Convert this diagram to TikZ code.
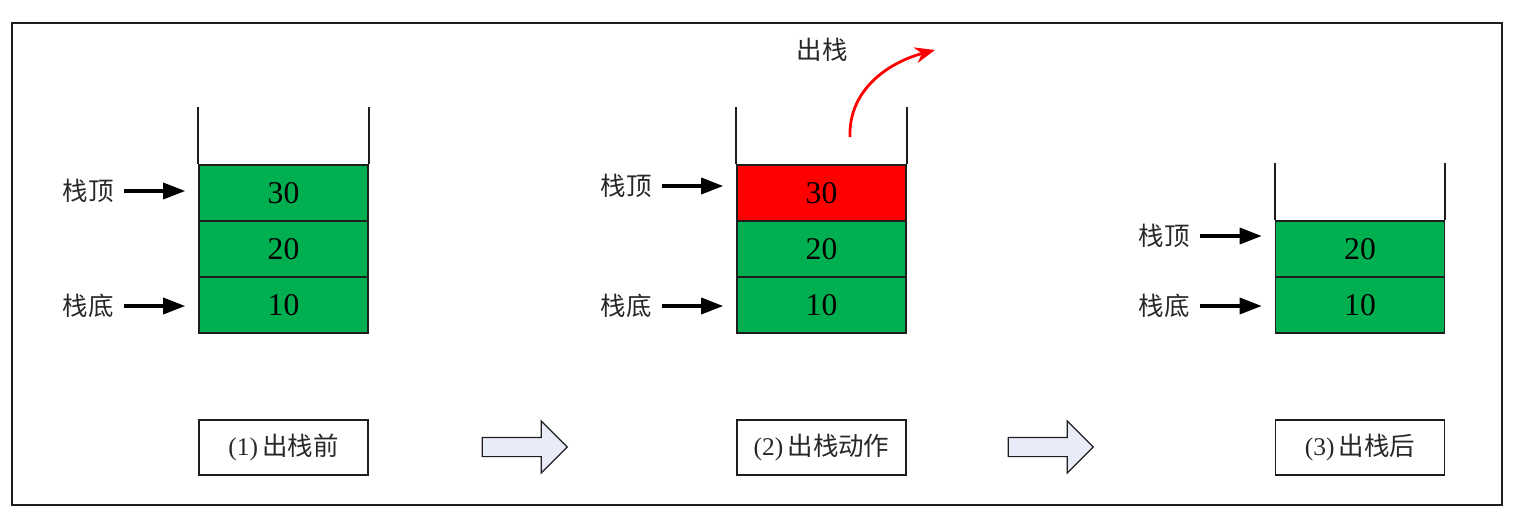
\documentclass[tikz,border=0pt]{standalone}
\usepackage{fontspec}
\setmainfont{Liberation Serif}
\newfontfamily\cjk{Noto Sans CJK SC}
\usetikzlibrary{arrows.meta, positioning, shapes.arrows}
\definecolor{cellcol}{RGB}{0, 176, 80}
\definecolor{popcol}{RGB}{255, 0, 0}
\definecolor{stepcol}{RGB}{232, 236, 248}
\definecolor{linecol}{RGB}{30, 30, 30}
\definecolor{textcol}{RGB}{40, 40, 40}
\tikzset{
  cell/.style    = {draw=linecol, line width=0.9pt, fill=cellcol,
                    minimum width=33.8mm, minimum height=11.2mm,
                    inner sep=0pt, font=\fontsize{18}{18}\selectfont},
  popped/.style  = {cell, fill=popcol},
  wall/.style    = {draw=linecol, line width=1pt},
  tag/.style     = {font=\cjk\fontsize{14.5}{15}\selectfont, text=textcol,
                    inner sep=0pt},
  ptr/.style     = {-{Triangle[length=4.4mm, width=3.2mm]}, draw=black,
                    line width=1.9pt, shorten <=2mm, shorten >=2.6mm},
  caption/.style = {draw=linecol, line width=0.9pt, minimum width=33.8mm,
                    minimum height=11mm, inner sep=0pt, text=textcol,
                    font=\fontsize{14.5}{15}\selectfont},
  stepper/.style = {single arrow, draw=linecol, line width=0.7pt,
                    fill=stepcol, minimum height=17mm, minimum width=10.2mm,
                    single arrow head extend=3.3mm, single arrow tip angle=90,
                    inner xsep=0pt, inner ysep=1.8mm},
  popflow/.style = {-{Stealth[length=4mm, width=3.2mm]}, draw=popcol,
                    line width=1.6pt},
}

\begin{document}
\begin{tikzpicture}[x=0.2mm, y=-0.2mm]
  \useasboundingbox (0,0) rectangle (1513,529);

  %% ---------------- frame ----------------
  \draw[linecol, line width=1pt] (12,23) rectangle (1502,505);

  %% ---------------- (1) before the pop ----------------
  \node[cell] (a10) at (283.5,305) {10};
  \node[cell] (a20) at (283.5,249) {20};
  \node[cell] (a30) at (283.5,193) {30};
  \draw[wall] (a30.north west) -- +(0,-57);
  \draw[wall] (a30.north east) -- +(0,-57);
  \node[tag] (atop) at (88,191) {栈顶};
  \node[tag] (abot) at (88,306) {栈底};
  \draw[ptr] (atop.east) -- (atop.east -| a30.west);
  \draw[ptr] (abot.east) -- (abot.east -| a10.west);
  \node[caption] (acap) at (283.5,447.5) {(1)\,{\cjk 出栈前}};

  \node[stepper] (step1) at (520,447) {};

  %% ---------------- (2) the pop ----------------
  \node[cell]   (b10) at (821.5,305) {10};
  \node[cell]   (b20) at (821.5,249) {20};
  \node[popped] (b30) at (821.5,193) {30};
  \draw[wall] (b30.north west) -- +(0,-57);
  \draw[wall] (b30.north east) -- +(0,-57);
  \node[tag] (btop) at (626,186) {栈顶};
  \node[tag] (bbot) at (626,306) {栈底};
  \draw[ptr] (btop.east) -- (btop.east -| b30.west);
  \draw[ptr] (bbot.east) -- (bbot.east -| b10.west);
  \coordinate (bfrom) at (850,137);
  \coordinate (bout) at (935,50);
  \draw[popflow] (bfrom) to[out=92, in=195] (bout);
  \node[tag] (bpop) at (822,50) {出栈};
  \node[caption] (bcap) at (821.5,447.5) {(2)\,{\cjk 出栈动作}};

  \node[stepper] (step2) at (1046,447) {};

  %% ---------------- (3) after the pop ----------------
  \node[cell] (c10) at (1360,305) {10};
  \node[cell] (c20) at (1360,249) {20};
  \draw[wall] (c20.north west) -- +(0,-57);
  \draw[wall] (c20.north east) -- +(0,-57);
  \node[tag] (ctop) at (1164,236) {栈顶};
  \node[tag] (cbot) at (1164,306) {栈底};
  \draw[ptr] (ctop.east) -- (ctop.east -| c20.west);
  \draw[ptr] (cbot.east) -- (cbot.east -| c10.west);
  \node[caption] (ccap) at (1360,447.5) {(3)\,{\cjk 出栈后}};

\end{tikzpicture}
\end{document}
